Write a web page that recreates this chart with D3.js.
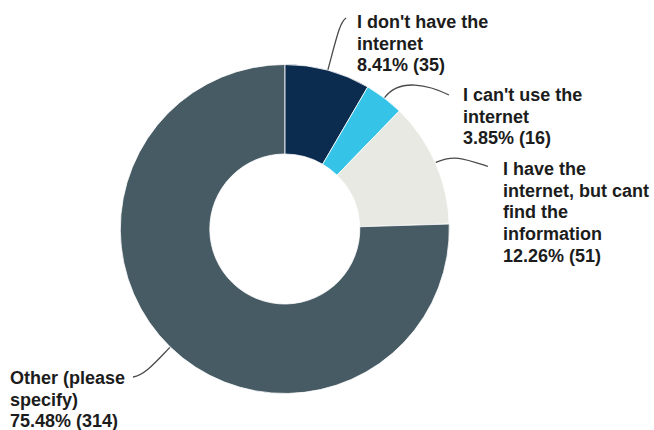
<!DOCTYPE html>
<html><head><meta charset="utf-8">
<script src="https://cdn.jsdelivr.net/npm/d3@7"></script>
<style>html,body{margin:0;padding:0;background:#fff;}svg{display:block;}</style>
</head><body>
<svg id="chart" width="654" height="430"></svg>
<script>
const categories = ["I don't have the internet", "I can't use the internet", "I have the internet, but cant find the information", "Other (please specify)"];
const counts = [35, 16, 51, 314];
const percents = ["8.41%", "3.85%", "12.26%", "75.48%"];
const labelLines = [
  ["I don't have the", "internet"],
  ["I can't use the", "internet"],
  ["I have the", "internet, but cant", "find the", "information"],
  ["Other (please", "specify)"]
];
const colors = ["#0b2c4f", "#35c4e7", "#e9e9e3", "#475b65"];

const svg = d3.select("#chart");
const cx = 284.8, cy = 229, R = 164.5, r = 75;
const g = svg.append("g").attr("transform", `translate(${cx},${cy})`);

const pie = d3.pie().sort(null).value(d => d)(counts);
const arc = d3.arc().innerRadius(r).outerRadius(R);
g.selectAll("path.slice").data(pie).join("path")
  .attr("class", "slice")
  .attr("d", arc)
  .attr("fill", (d, i) => colors[i])
  .attr("stroke", "#fff").attr("stroke-width", 0.8);

// label layout: left x, first baseline, leader end point and control distances
const layout = [
  {x: 357, y: 28, end: [346, 18], c1: 35, c2: [-6, 4]},
  {x: 463, y: 101, end: [449, 95], c1: 25, c2: [-20, -10]},
  {x: 503, y: 175, end: [488, 166.5], c1: 20, c2: [-24, -8]},
  {x: 10, y: 384, end: [133, 377], c1: 20, c2: [12, -2]}
];
const lh = 21.7;

pie.forEach((d, i) => {
  const a = (d.startAngle + d.endAngle) / 2;
  const dir = [Math.sin(a), -Math.cos(a)];
  const s = [cx + dir[0] * (R + 0.5), cy + dir[1] * (R + 0.5)];
  const L = layout[i];
  const c1 = [s[0] + dir[0] * L.c1, s[1] + dir[1] * L.c1];
  const c2 = [L.end[0] + L.c2[0], L.end[1] + L.c2[1]];
  const p = d3.path();
  p.moveTo(s[0], s[1]);
  p.bezierCurveTo(c1[0], c1[1], c2[0], c2[1], L.end[0], L.end[1]);
  svg.append("path").attr("d", p.toString())
    .attr("fill", "none").attr("stroke", "#4a4a4a").attr("stroke-width", 1.3);

  const lines = labelLines[i].concat([`${percents[i]} (${counts[i]})`]);
  const t = svg.append("text")
    .attr("x", L.x).attr("y", L.y)
    .attr("font-family", "'Liberation Sans', Arial, sans-serif")
    .attr("font-weight", "bold").attr("font-size", 18)
    .attr("fill", "#1c1c1c");
  lines.forEach((ln, j) => {
    t.append("tspan").attr("x", L.x).attr("y", L.y + j * lh).text(ln);
  });
});
</script>
</body></html>
